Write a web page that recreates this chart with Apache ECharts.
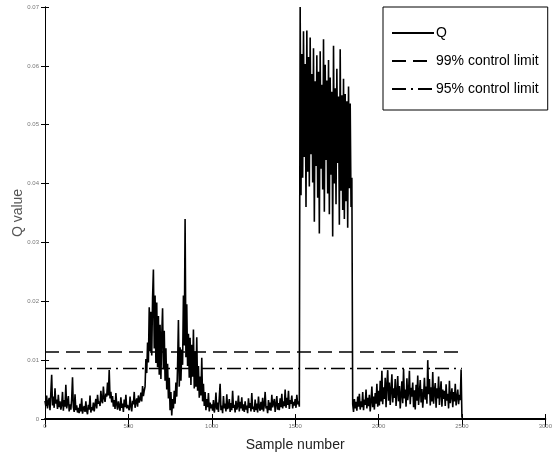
<!DOCTYPE html>
<html>
<head>
<meta charset="utf-8">
<script src="https://cdn.jsdelivr.net/npm/echarts@6/dist/echarts.min.js"></script>
<style>
  html, body { margin: 0; padding: 0; background: #fff; }
  #chart { width: 555px; height: 459px; }
</style>
</head>
<body>
<div id="chart"></div>
<script>
// Q statistic, one value every 5 samples, in units of 1e-3
const sampleStep = 5;
const qSamples0to495 = [
  3.1, 2.2, 4.0, 1.8, 2.9, 3.6, 1.5, 4.4, 7.5, 2.3, 3.8, 1.9, 5.2, 2.6, 3.3, 1.7, 4.1, 2.0, 3.0, 1.6,
  2.4, 4.6, 1.4, 3.2, 2.1, 5.8, 1.8, 2.7, 3.9, 1.3, 2.5, 1.6, 3.4, 7.1, 2.0, 1.2, 4.2, 1.5, 2.3, 1.1,
  1.9, 1.0, 2.6, 1.3, 3.5, 0.9, 1.7, 2.2, 1.2, 3.0, 1.4, 0.8, 2.4, 1.6, 4.0, 1.1, 2.0, 1.5, 2.8, 1.3,
  2.5, 3.4, 1.8, 4.1, 2.6, 3.0, 2.2, 4.8, 3.1, 2.7, 5.5, 3.6, 2.9, 4.3, 3.8, 6.2, 4.0, 8.3, 3.5, 4.6,
  2.8, 3.9, 2.1, 3.2, 1.7, 4.4, 2.5, 1.6, 3.0, 2.2, 1.4, 3.7, 1.9, 2.6, 1.2, 3.3, 2.0, 4.1, 1.8, 2.4
];
const qSamples500to995 = [
  2.7, 1.5, 3.8, 2.2, 1.3, 3.1, 2.5, 4.6, 1.9, 2.9, 3.5, 2.1, 4.0, 2.8, 3.3, 4.5, 3.0, 5.6, 3.9, 4.8,
  5.5, 10.2, 7.8, 13.0, 9.6, 19.0, 11.5, 18.2, 10.8, 20.5, 25.4, 12.0, 21.0, 9.5, 19.8, 8.8, 17.5, 7.5, 16.0, 6.8,
  14.2, 18.8, 8.4, 15.0, 6.5, 12.0, 5.0, 9.4, 3.5, 7.0, 1.5, 4.6, 0.6, 3.4, 1.8, 4.8, 2.6, 6.2, 3.8, 9.0,
  16.8, 5.5, 12.2, 6.5, 11.8, 9.2, 21.0, 12.5, 34.0, 10.5, 19.5, 9.0, 14.5, 7.0, 13.8, 5.8, 12.6, 7.2, 15.2, 5.2,
  11.5, 5.5, 13.9, 4.8, 9.0, 3.6, 7.2, 4.0, 10.4, 3.0, 6.0, 2.2, 4.6, 1.5, 3.4, 2.0, 4.4, 1.3, 2.8, 1.8
];
const qSamples1000to1495 = [
  2.5, 1.4, 3.2, 1.1, 2.0, 4.5, 1.6, 2.8, 1.2, 3.6, 6.0, 1.5, 2.3, 1.0, 3.9, 1.8, 2.6, 1.3, 4.2, 1.7,
  2.1, 3.4, 1.2, 2.7, 1.5, 4.8, 1.9, 2.4, 1.1, 3.1, 1.6, 2.2, 4.0, 1.3, 2.9, 1.8, 3.7, 1.4, 2.5, 1.2,
  3.0, 1.6, 2.3, 1.0, 3.5, 1.9, 2.7, 1.3, 4.4, 1.7, 2.1, 1.2, 3.3, 1.5, 2.6, 1.1, 3.8, 2.0, 1.4, 2.9,
  1.6, 3.6, 1.3, 2.4, 4.6, 1.8, 2.2, 1.0, 3.2, 1.5, 2.8, 1.4, 4.1, 2.0, 1.7, 3.4, 1.2, 2.5, 3.9, 1.6,
  2.7, 1.5, 3.5, 2.0, 4.3, 1.8, 3.0, 2.2, 5.0, 1.9, 3.6, 2.4, 4.8, 1.7, 3.2, 2.6, 4.0, 1.8, 2.9, 2.3
];
const qSamples1500to1995 = [
  3.4, 1.9, 4.1, 2.5, 3.0, 2.1, 70.0, 38.0, 62.0, 41.0, 65.9, 44.5, 60.3, 36.0, 66.0, 42.0, 61.5, 39.5, 64.8, 45.0,
  58.6, 40.2, 63.0, 33.5, 57.4, 43.0, 61.8, 37.6, 59.0, 31.5, 62.5, 42.5, 56.8, 39.0, 64.5, 35.2, 60.2, 44.0, 57.5, 38.3,
  61.0, 34.8, 58.0, 41.5, 55.6, 31.0, 63.4, 40.0, 56.2, 36.5, 59.5, 43.5, 54.8, 33.0, 62.8, 38.8, 55.0, 35.5, 57.8, 34.0,
  55.2, 37.0, 54.0, 32.5, 56.5, 39.2, 53.6, 36.0, 41.0, 2.5, 1.2, 3.4, 1.8, 2.9, 1.4, 3.8, 2.1, 4.3, 1.6, 3.0,
  2.0, 4.6, 1.5, 3.3, 2.4, 5.0, 1.8, 3.6, 2.2, 4.1, 1.3, 3.0, 5.5, 2.0, 3.8, 1.6, 4.4, 2.6, 6.0, 2.1
];
const qSamples2000to2500 = [
  4.8, 2.3, 6.5, 3.0, 8.2, 2.5, 5.4, 3.4, 7.0, 2.0, 5.8, 8.3, 3.1, 6.2, 2.4, 4.9, 7.6, 2.8, 5.2, 3.6,
  6.8, 2.2, 4.5, 7.3, 3.0, 5.6, 1.8, 4.2, 6.4, 2.7, 8.5, 3.5, 5.0, 2.1, 6.9, 3.2, 4.6, 8.2, 2.5, 5.3,
  3.8, 6.2, 2.0, 4.9, 1.6, 5.8, 3.1, 7.4, 2.4, 4.4, 6.6, 2.8, 5.1, 1.9, 4.0, 7.0, 3.3, 5.5, 2.6, 10.0,
  4.2, 6.8, 2.3, 5.4, 3.0, 8.0, 2.6, 4.7, 6.1, 1.9, 5.2, 3.5, 7.2, 2.4, 4.5, 6.4, 2.1, 5.0, 3.4, 4.8,
  2.2, 5.9, 3.1, 4.3, 1.8, 6.5, 2.7, 3.9, 5.2, 2.0, 4.6, 3.0, 6.0, 2.3, 3.7, 5.0, 2.5, 4.1, 3.2, 8.4,
  0.2
];
const limit99 = 0.0114;
const limit95 = 0.0086;
const limitEnd = 2500;
const xTicks = [0, 500, 1000, 1500, 2000, 2500, 3000];
const yTicks = [0, 0.01, 0.02, 0.03, 0.04, 0.05, 0.06, 0.07];

const qAll = [].concat(qSamples0to495, qSamples500to995, qSamples1000to1495,
                       qSamples1500to1995, qSamples2000to2500);
const qData = qAll.map((v, i) => [i * sampleStep, v / 1000]);

const font = '"Liberation Sans Narrow", "Liberation Sans", Arial, sans-serif';
const chart = echarts.init(document.getElementById('chart'), null, {renderer: 'canvas'});

const tickLabel = {color: '#777', fontSize: 6, fontFamily: font};
const option = {
  animation: false,
  backgroundColor: '#fff',
  grid: {left: 45, right: 8, top: 7, bottom: 40},
  legend: {
    orient: 'vertical',
    left: 383,
    top: 7,
    padding: [19, 9, 14, 8],
    itemGap: 14,
    itemWidth: 42,
    itemHeight: 14,
    borderColor: '#000',
    borderWidth: 1,
    backgroundColor: '#fff',
    itemStyle: {opacity: 0},
    textStyle: {color: '#000', fontSize: 14, fontFamily: font, padding: [0, 0, 0, -3]},
    data: ['Q', '99% control limit', '95% control limit']
  },
  xAxis: [
    {
      type: 'value', min: 0, max: 3000, interval: 500,
      name: 'Sample number', nameLocation: 'middle', nameGap: 19,
      nameMoveOverlap: false,
      nameTextStyle: {color: '#222', fontSize: 14, fontFamily: font},
      axisLine: {lineStyle: {color: '#000', width: 1}},
      axisTick: {inside: true, length: 5, lineStyle: {color: '#000'}},
      axisLabel: Object.assign({margin: 4, formatter: v => xTicks.includes(v) ? String(v) : ''}, tickLabel),
      splitLine: {show: false}
    },
    {
      type: 'value', min: 0, max: 3000, interval: 500, position: 'top',
      axisLine: {lineStyle: {color: '#000', width: 2}},
      axisTick: {inside: true, length: 8, lineStyle: {color: '#000'}},
      axisLabel: {show: false},
      splitLine: {show: false}
    }
  ],
  yAxis: [
    {
      type: 'value', min: 0, max: 0.07, interval: 0.01,
      name: 'Q value', nameLocation: 'middle', nameGap: 20,
      nameMoveOverlap: false,
      nameTextStyle: {color: '#555', fontSize: 14, fontFamily: font},
      axisLine: {show: true, lineStyle: {color: '#000', width: 1}},
      axisTick: {show: true, inside: true, length: 4, lineStyle: {color: '#000'}},
      axisLabel: Object.assign({margin: 6, formatter: v => yTicks.some(t => Math.abs(t - v) < 1e-9) ? String(+v.toFixed(2)) : ''}, tickLabel),
      splitLine: {show: false}
    },
    {
      type: 'value', min: 0, max: 0.07, interval: 0.01, position: 'right',
      axisLine: {show: true, lineStyle: {color: '#000', width: 1}},
      axisTick: {show: true, inside: true, length: 4, lineStyle: {color: '#000'}},
      axisLabel: {show: false},
      splitLine: {show: false}
    }
  ],
  series: [
    {
      name: 'Q', type: 'line', data: qData, showSymbol: false, symbol: 'none',
      xAxisIndex: 0, yAxisIndex: 0,
      lineStyle: {color: '#000', width: 1.6},
      itemStyle: {color: '#000'}
    },
    {
      name: '99% control limit', type: 'line', showSymbol: false, symbol: 'none',
      data: [[0, limit99], [limitEnd, limit99]],
      lineStyle: {color: '#000', width: 1.5, type: [14, 7]},
      itemStyle: {color: '#000'}
    },
    {
      name: '95% control limit', type: 'line', showSymbol: false, symbol: 'none',
      data: [[0, limit95], [limitEnd, limit95]],
      lineStyle: {color: '#000', width: 1.5, type: [14, 5, 2, 5]},
      itemStyle: {color: '#000'}
    }
  ]
};
chart.setOption(option);
</script>
</body>
</html>
